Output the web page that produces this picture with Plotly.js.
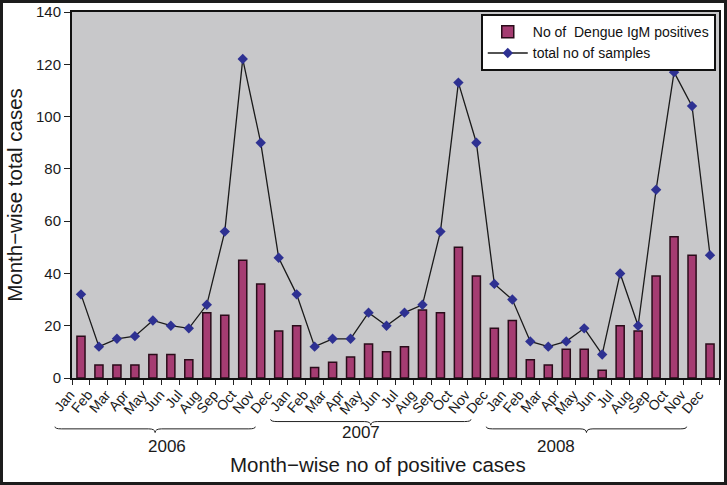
<!DOCTYPE html>
<html><head><meta charset="utf-8">
<script src="https://cdn.plot.ly/plotly-3.0.1.min.js"></script>
<style>
html,body{margin:0;padding:0;background:#fff;}
#chart{width:727px;height:485px;box-sizing:border-box;border:3px solid #1c1c1c;}
</style></head>
<body><div id="chart"></div>
<script>
const years = ["2006","2007","2008"];
const months = ["Jan","Feb","Mar","Apr","May","Jun","Jul","Aug","Sep","Oct","Nov","Dec"];
const positives = [16,5,5,5,9,9,7,25,24,45,36,18,
                   20,4,6,8,13,10,12,26,25,50,39,19,
                   22,7,5,11,11,3,20,18,39,54,47,13];
const totalSamples = [32,12,15,16,22,20,19,28,56,122,90,46,
                      32,12,15,15,25,20,25,28,56,113,90,36,
                      30,14,12,14,19,9,40,20,72,117,104,47];
const xTitle = "Month\u2212wise no of positive cases";
const yTitle = "Month\u2212wise total cases";

const cats = [], tickText = [];
years.forEach(y => months.forEach(m => { cats.push(m + " " + y); tickText.push(m); }));
const n = cats.length;
const font = "Arial, 'Liberation Sans', sans-serif";

const traces = [
  {type:"bar", x:cats, y:positives, name:"No of\u00a0 Dengue IgM positives",
   width:0.45, marker:{color:"#a53c72", line:{color:"#2a0c1a", width:1.5}}},
  {type:"scatter", mode:"lines+markers", x:cats, y:totalSamples, name:"total no of samples",
   line:{color:"#1a1a1a", width:1.3},
   marker:{symbol:"diamond", size:8, color:"#2e3192", line:{color:"#2e3192", width:0}}}
];

// year braces and labels (layout decoration), positioned by category index
const px = i => (i + 0.5) / n;
const shapes = [], annotations = [];
const braceY = [-0.133, -0.113, -0.133];
const labelY = [-0.186, -0.150, -0.186];
years.forEach((y, k) => {
  const x0 = px(12*k - 1.45), x1 = px(12*k + 9.7), xm = (x0 + x1) / 2;
  const y0 = braceY[k], y1 = y0 - 0.006, y2 = y0 - 0.016, d = 0.01;
  shapes.push({type:"path", xref:"paper", yref:"paper",
    path:`M ${x0},${y0} Q ${x0},${y1} ${x0+d},${y1} L ${xm-d},${y1} Q ${xm},${y1} ${xm},${y2} Q ${xm},${y1} ${xm+d},${y1} L ${x1-d},${y1} Q ${x1},${y1} ${x1},${y0}`,
    line:{color:"#222", width:1}});
  annotations.push({xref:"paper", yref:"paper", x:px(12*k + 3.6), y:labelY[k], yanchor:"middle",
    text:y, showarrow:false, font:{family:font, size:17, color:"#1a1a1a"}});
});
// x-axis title (placed as annotation to match its off-centre position)
annotations.push({xref:"paper", yref:"paper", x:px(16.5), y:-0.235, yanchor:"middle",
  text:xTitle, showarrow:false, font:{family:font, size:20.5, color:"#1a1a1a"}});

const layout = {
  width:721, height:479,
  margin:{l:69, r:5, t:9, b:104},
  paper_bgcolor:"#ffffff", plot_bgcolor:"#c8c8ca",
  font:{family:font, color:"#1a1a1a"},
  bargap:0.55,
  showlegend:true,
  legend:{x:0.995, xanchor:"right", y:0.994, yanchor:"top", bgcolor:"#ffffff",
    bordercolor:"#111", borderwidth:2, font:{family:font, size:14, color:"#111"},
    tracegroupgap:0, itemwidth:40},
  xaxis:{type:"category", range:[-0.5, n-0.5], tickmode:"array", tickvals:cats, ticktext:tickText,
    tickangle:-50, tickson:"boundaries", ticks:"outside", ticklen:5, tickcolor:"#222",
    ticklabelstandoff:1, ticklabelshift:-11,
    tickfont:{family:font, size:14, color:"#1a1a1a"},
    showline:true, linecolor:"#111", linewidth:2, mirror:true, showgrid:false, zeroline:false},
  yaxis:{range:[0,140], dtick:20, ticks:"outside", ticklen:6, tickcolor:"#222",
    tickfont:{family:font, size:15, color:"#1a1a1a"},
    showline:true, linecolor:"#111", linewidth:2, mirror:true, showgrid:false, zeroline:false,
    title:{text:yTitle, font:{family:font, size:20.5, color:"#1a1a1a"}, standoff:8}},
  shapes:shapes, annotations:annotations
};

Plotly.newPlot("chart", traces, layout, {displayModeBar:false, staticPlot:true});
</script></body></html>
